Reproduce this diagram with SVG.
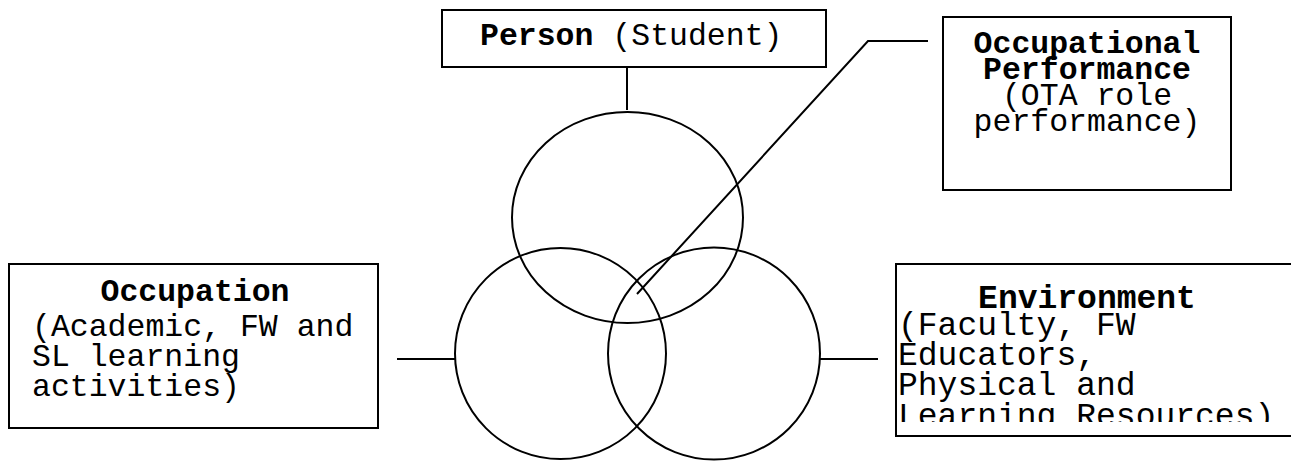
<svg xmlns="http://www.w3.org/2000/svg" width="1291" height="461" viewBox="0 0 1291 461">
<style>
.box{fill:#fff;stroke:#000;stroke-width:2}
.circ{fill:none;stroke:#000;stroke-width:2}
.ln{fill:none;stroke:#000;stroke-width:2}
text{font-family:"Liberation Mono","Courier New",monospace;font-size:31.5px;fill:#000}
.b{font-weight:bold}
.env{font-size:33px}
</style>
<defs>
<clipPath id="envclip"><rect x="897" y="265" width="394" height="157"/></clipPath>
</defs>
<g id="connectors">
<line class="ln" x1="627" y1="67" x2="627" y2="110"/>
<polyline class="ln" points="928,41 868,41 637,294"/>
<line class="ln" x1="397" y1="359" x2="455" y2="359"/>
<line class="ln" x1="820" y1="359" x2="878" y2="359"/>
</g>
<g id="circles">
<ellipse class="circ" cx="627.5" cy="217.5" rx="115.5" ry="105.5"/>
<circle class="circ" cx="560.5" cy="353.5" r="105.5"/>
<circle class="circ" cx="714" cy="353.5" r="106"/>
</g>
<g id="person">
<rect class="box" x="442" y="10" width="384" height="57"/>
<text x="480" y="45"><tspan class="b">Person</tspan> (Student)</text>
</g>
<g id="performance">
<rect class="box" x="943" y="17" width="288" height="173"/>
<text x="1087" y="53" text-anchor="middle" class="b">Occupational</text>
<text x="1087" y="79" text-anchor="middle" class="b">Performance</text>
<text x="1087" y="105" text-anchor="middle">(OTA role</text>
<text x="1087" y="131" text-anchor="middle">performance)</text>
</g>
<g id="occupation">
<rect class="box" x="9" y="264" width="369" height="164"/>
<text x="195" y="301" text-anchor="middle" class="b">Occupation</text>
<text x="32" y="336">(Academic, FW and</text>
<text x="32" y="366">SL learning</text>
<text x="32" y="396">activities)</text>
</g>
<g id="environment">
<rect class="box" x="896" y="264" width="400" height="172"/>
<g clip-path="url(#envclip)" class="env">
<text x="1087" y="308" text-anchor="middle" class="b env">Environment</text>
<text x="898" y="335" class="env">(Faculty, FW</text>
<text x="898" y="365" class="env">Educators,</text>
<text x="898" y="395" class="env">Physical and</text>
<text x="898" y="426" class="env">Learning Resources)</text>
</g>
</g>
</svg>
